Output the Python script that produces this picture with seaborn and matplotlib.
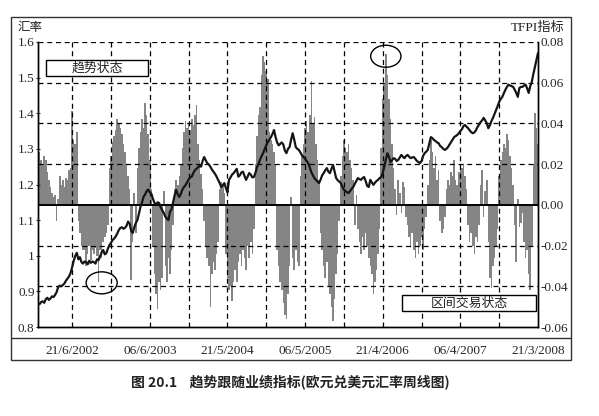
import numpy as np
import pandas as pd
import matplotlib
matplotlib.use("Agg")
import matplotlib.pyplot as plt
import seaborn as sns
from matplotlib.patches import Ellipse, Rectangle
from matplotlib.lines import Line2D
from matplotlib.ticker import FixedLocator, FuncFormatter

# ---------------- data ----------------
start_date = "2002-01-18"          # first weekly observation
tick_labels = ["21/6/2002", "06/6/2003", "21/5/2004", "06/5/2005",
               "21/4/2006", "06/4/2007", "21/3/2008"]

# EUR/USD weekly close (left axis)
rate = [
    0.866, 0.864, 0.870, 0.872, 0.868, 0.878, 0.882, 0.876, 0.880, 0.886,
    0.884, 0.890, 0.898, 0.912, 0.916, 0.914, 0.918, 0.922, 0.930, 0.936,
    0.942, 0.952, 0.968, 0.986, 1.000, 1.008, 0.990, 0.996, 0.982, 0.978,
    0.984, 0.982, 0.976, 0.986, 0.980, 0.984, 0.982, 0.978, 0.990, 0.988,
    0.998, 1.010, 1.016, 1.004, 1.007, 1.020, 1.030, 1.036, 1.044, 1.048,
    1.054, 1.062, 1.072, 1.078, 1.080, 1.076, 1.078, 1.084, 1.096, 1.090,
    1.070, 1.064, 1.080, 1.092, 1.100, 1.118, 1.138, 1.150, 1.166, 1.172,
    1.182, 1.186, 1.178, 1.174, 1.160, 1.148, 1.144, 1.150, 1.148, 1.136,
    1.128, 1.120, 1.110, 1.104, 1.100, 1.124, 1.130, 1.150, 1.170, 1.185,
    1.172, 1.165, 1.174, 1.186, 1.193, 1.198, 1.206, 1.214, 1.220, 1.222,
    1.232, 1.240, 1.244, 1.248, 1.252, 1.250, 1.266, 1.277, 1.268, 1.260,
    1.256, 1.250, 1.242, 1.236, 1.230, 1.222, 1.213, 1.204, 1.193, 1.198,
    1.204, 1.190, 1.178, 1.213, 1.220, 1.228, 1.232, 1.238, 1.244, 1.222,
    1.226, 1.234, 1.236, 1.224, 1.213, 1.222, 1.232, 1.228, 1.220, 1.221,
    1.232, 1.248, 1.258, 1.270, 1.280, 1.288, 1.300, 1.310, 1.319, 1.326,
    1.333, 1.342, 1.353, 1.333, 1.318, 1.310, 1.314, 1.318, 1.312, 1.295,
    1.288, 1.300, 1.305, 1.326, 1.344, 1.326, 1.305, 1.300, 1.297, 1.290,
    1.282, 1.277, 1.272, 1.266, 1.260, 1.248, 1.235, 1.226, 1.218, 1.213,
    1.208, 1.204, 1.214, 1.226, 1.232, 1.240, 1.246, 1.236, 1.232, 1.244,
    1.255, 1.236, 1.218, 1.212, 1.208, 1.204, 1.194, 1.185, 1.182, 1.178,
    1.176, 1.182, 1.188, 1.193, 1.202, 1.210, 1.218, 1.215, 1.213, 1.218,
    1.221, 1.210, 1.196, 1.193, 1.213, 1.206, 1.199, 1.205, 1.210, 1.213,
    1.218, 1.221, 1.232, 1.250, 1.270, 1.288, 1.278, 1.263, 1.268, 1.274,
    1.272, 1.266, 1.269, 1.276, 1.283, 1.278, 1.274, 1.280, 1.283, 1.278,
    1.274, 1.276, 1.277, 1.272, 1.266, 1.263, 1.260, 1.266, 1.280, 1.288,
    1.292, 1.297, 1.315, 1.333, 1.330, 1.325, 1.322, 1.318, 1.316, 1.308,
    1.305, 1.300, 1.297, 1.300, 1.305, 1.312, 1.319, 1.326, 1.333, 1.336,
    1.339, 1.344, 1.350, 1.355, 1.364, 1.367, 1.362, 1.358, 1.352, 1.347,
    1.344, 1.346, 1.352, 1.361, 1.368, 1.375, 1.380, 1.387, 1.380, 1.372,
    1.358, 1.366, 1.378, 1.387, 1.398, 1.409, 1.420, 1.432, 1.440, 1.446,
    1.456, 1.466, 1.474, 1.480, 1.478, 1.476, 1.474, 1.466, 1.457, 1.446,
    1.471, 1.474, 1.474, 1.478, 1.480, 1.470, 1.457, 1.476, 1.488, 1.510,
    1.530, 1.550, 1.569,
]

# TFPI indicator, in thousandths (right axis)
tfpi_milli = [
    27, 26, 22, 20, 24, 22, 16, 12, 9, 6,
    4, 5, -8, 3, 14, 10, 12, 9, 13, 12,
    17, 18, 46, 32, 30, 36, -8, -14, -20, -22,
    -22, -30, -24, -20, -27, -22, -24, -21, -25, -38,
    -22, -26, -18, -16, -14, -10, 18, 24, 31, 34,
    37, 42, 40, 38, 35, 30, 26, 20, 14, 8,
    -37, -18, 6, -14, 18, 28, 36, 42, 38, 50,
    44, 35, 22, 8, -20, -34, -44, -51, -38, -42,
    -36, 7, -30, -38, -26, -34, -22, -10, 8, 12,
    10, 14, 20, 28, 36, 41, 38, 40, 37, 42,
    39, 44, 49, 30, 22, 15, 8, -8, -20, -26,
    -30, -50, -34, -28, -32, -24, -18, 8, 11, 10,
    6, -24, -36, -42, -40, -47, -38, -32, -38, -28,
    -24, -30, -22, -26, -32, -20, -26, -18, -24, -12,
    20, 34, 44, 48, 64, 73, 70, 66, 62, 36,
    32, 30, 26, 20, -22, -30, -38, -42, -48, -54,
    -56, -44, -30, 4, -26, -32, -22, -28, -30, 14,
    24, 30, 38, 41, 36, 44, 61, 40, 43, 30,
    22, 12, -14, -22, -30, -36, -28, -40, -44, -50,
    -57, -46, -34, -24, -8, 14, 24, 32, 28, 26,
    30, 22, 18, 12, -10, 5, -12, -18, -24, -16,
    -22, -14, -20, -26, -30, -34, -44, -38, -32, -24,
    -12, 28, 52, 60, 74, 64, 52, 42, 30, 18,
    8, -5, 12, 6, -4, 11, 9, -6, -10, -16,
    -20, -14, -22, -26, -18, -24, -20, -16, -22, -12,
    -6, 10, 22, 32, 26, 18, 24, 12, 17, -8,
    -14, -12, -6, 8, 12, 10, 16, 14, 22, 12,
    10, 16, 20, 18, 20, 14, 8, -10, -18, -14,
    -20, -24, -16, -18, -10, 10, 17, -6, 7, 12,
    -18, -36, -41, -30, -26, -20, -12, 14, 22, 26,
    30, 28, 35, 32, 24, 18, 10, -10, -28, 3,
    -11, -9, -4, -18, -26, -22, -34, -42, -20, 20,
    45, 38, 30,
]

rate_ticks = [0.8, 0.9, 1.0, 1.1, 1.2, 1.3, 1.4, 1.5, 1.6]
tfpi_ticks = [-0.06, -0.04, -0.02, 0.00, 0.02, 0.04, 0.06, 0.08]

# ---------------- frame ----------------
dates = pd.date_range(start_date, periods=len(rate), freq="7D")
df = pd.DataFrame({"week": np.arange(len(rate)), "date": dates,
                   "rate": rate, "tfpi": np.array(tfpi_milli) / 1000.0})
tick_dates = pd.to_datetime(tick_labels, format="%d/%m/%Y")
tick_pos = np.asarray((tick_dates - dates[0]).days // 7, dtype=float)
mid_pos = (tick_pos[:-1] + tick_pos[1:]) / 2.0

sns.set_style("white")
plt.rcParams["font.family"] = ["Liberation Serif", "Noto Sans CJK SC", "DejaVu Sans"]
plt.rcParams["axes.unicode_minus"] = False

W, H = 599, 416
fig = plt.figure(figsize=(W / 100, H / 100), dpi=100)
fig.patch.set_facecolor("white")
L, R, T, B = 38, 538, 42, 327
ax = fig.add_axes([L / W, 1 - B / H, (R - L) / W, (B - T) / H])
ax2 = ax.twinx()

# bars (TFPI) on main axis, ticks on the right
sns.barplot(data=df, x="week", y="tfpi", native_scale=True, ax=ax,
            color="#858585", saturation=1, width=1.0, linewidth=0,
            errorbar=None)
ax.axhline(0, color="black", lw=1.4, zorder=3)

# line (exchange rate) on twin axis, ticks on the left
sns.lineplot(data=df, x="week", y="rate", ax=ax2, color="#151515", lw=1.6)

ax.set_xlim(0, len(rate) - 1)
ax.set_ylim(-0.06, 0.08)
ax2.set_ylim(0.8, 1.6)

ax.yaxis.tick_right()
ax.yaxis.set_label_position("right")
ax2.yaxis.tick_left()
ax2.yaxis.set_label_position("left")

ax.set_yticks(tfpi_ticks)
ax.yaxis.set_major_formatter(FuncFormatter(lambda v, p: f"{v:.2f}"))
ax2.set_yticks(rate_ticks)
ax2.yaxis.set_major_formatter(FuncFormatter(lambda v, p: f"{v:g}"))

ax.xaxis.set_major_locator(FixedLocator(tick_pos))
ax.xaxis.set_minor_locator(FixedLocator(mid_pos))
ax.set_xticklabels(tick_labels)

for a in (ax, ax2):
    a.set_xlabel("")
    a.set_ylabel("")
    a.spines["top"].set_visible(False)
    for s in ("left", "right", "bottom"):
        a.spines[s].set_color("black")
        a.spines[s].set_linewidth(1.0)

ax.tick_params(axis="x", which="both", length=0, pad=13, labelsize=9.5)
ax.tick_params(axis="y", length=0, pad=2, labelsize=9.5, right=True, left=False,
               labelright=True, labelleft=False)
ax2.tick_params(axis="y", length=3, direction="inout", pad=1, labelsize=9.5,
                left=True, right=False, labelleft=True, labelright=False)

dash = (0, (4, 3))
ax.grid(False)
ax2.grid(False)
for x in list(tick_pos[:-1]) + list(mid_pos):
    ax.axvline(x, color="black", lw=0.9, ls=dash, zorder=1.5)
for y in tfpi_ticks:
    if y != 0 and y != tfpi_ticks[0]:
        ax.axhline(y, color="black", lw=0.9, ls=dash, zorder=1.5)

# annotation boxes
cjk = ["Noto Sans CJK SC", "DejaVu Sans"]
for (x0, y0, w, h, txt) in [(0.016, 0.881, 0.204, 0.056, "趋势状态"),
                            (0.728, 0.056, 0.268, 0.056, "区间交易状态")]:
    ax2.add_patch(Rectangle((x0, y0), w, h, transform=ax2.transAxes,
                            facecolor="white", edgecolor="black", lw=1.0, zorder=10))
    ax2.text(x0 + w / 2, y0 + h / 2, txt, transform=ax2.transAxes, ha="center",
             va="center", fontsize=9.3, family=cjk, zorder=11, color="#222")

# circles around the extreme bars
peak_i = int(np.argmax(df["tfpi"].values))
low_i = 39
ax.add_patch(Ellipse((peak_i, df["tfpi"][peak_i] - 0.001), 19.5, 0.0108,
                     fill=False, edgecolor="black", lw=1.0, zorder=6))
ax.add_patch(Ellipse((low_i + 2, df["tfpi"][low_i] - 0.0003), 20, 0.0108,
                     fill=False, edgecolor="black", lw=1.0, zorder=6))

# axis titles
fig.text(17 / W, 1 - 28 / H, "汇率", fontsize=9, family=cjk, va="center", ha="left", color="#222")
fig.text(565 / W, 1 - 28 / H, "TFPI指标", fontsize=9.5, va="center", ha="right",
         family=["Liberation Serif", "Noto Sans CJK SC"], color="#222")

# outer frame and separator
fig.add_artist(Rectangle((11 / W, 1 - 360 / H), 560 / W, 343 / H, transform=fig.transFigure,
                         fill=False, edgecolor="#333", lw=1.0))
fig.add_artist(Line2D([11 / W, 571 / W], [1 - 338 / H, 1 - 338 / H],
                      transform=fig.transFigure, color="#333", lw=1.0))

fig.text(290 / W, 1 - 383 / H, "图 20.1    趋势跟随业绩指标(欧元兑美元汇率周线图)",
         fontsize=10, fontweight="bold", family=cjk, ha="center", va="center", color="#222")

fig.savefig("out.png", dpi=100, facecolor="white")
